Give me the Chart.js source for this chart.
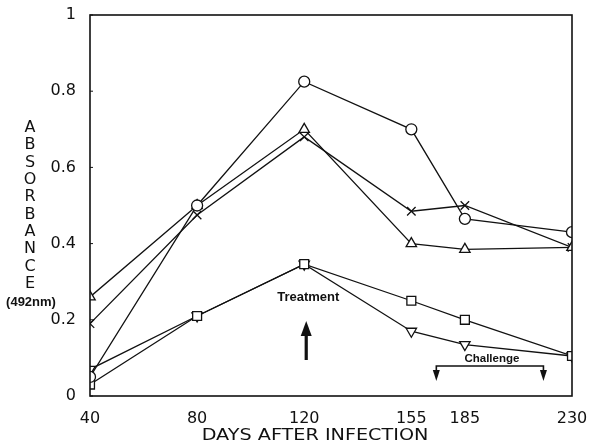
<!DOCTYPE html>
<html>
<head>
<meta charset="utf-8">
<script src="https://cdn.jsdelivr.net/npm/chart.js@4.4.1/dist/chart.umd.min.js"></script>
<style>
  html, body { margin: 0; padding: 0; background: #ffffff; }
  #wrap { width: 589px; height: 445px; position: relative; }
</style>
</head>
<body>
<div id="wrap"><canvas id="c" width="589" height="445"></canvas></div>
<script>
// ---- data ----
const days = [40, 80, 120, 155, 185, 230];
const circleSeries      = [0.05, 0.50, 0.825, 0.70, 0.465, 0.43];
const triangleSeries    = [0.26, 0.50, 0.70, 0.40, 0.385, 0.39];
const crossSeries       = [0.19, 0.475, 0.68, 0.485, 0.50, 0.39];
const squareSeries      = [0.03, 0.21, 0.346, 0.25, 0.20, 0.105];
const invTriangleSeries = [0.07, 0.21, 0.346, 0.17, 0.135, 0.105];
const yTicks = [0, 0.2, 0.4, 0.6, 0.8, 1];
const xTicks = [40, 80, 120, 155, 185, 230];
const treatmentDay = 120;
const challengeDays = [169, 218];
const yTitleLetters = ['A','B','S','O','R','B','A','N','C','E'];
const yTitleUnit = '(492nm)';
const xTitle = 'DAYS AFTER INFECTION';

// ---- a linear scale whose spacing between the original (uneven) day ticks follows the printed axis ----
class WarpScale extends Chart.LinearScale {
  _warp(v) {
    const s = this.options.stops, p = this.options.slots;
    if (v <= s[0]) return p[0] + (v - s[0]) * (p[1] - p[0]) / (s[1] - s[0]);
    for (let i = 1; i < s.length; i++) {
      if (v <= s[i]) return p[i - 1] + (v - s[i - 1]) * (p[i] - p[i - 1]) / (s[i] - s[i - 1]);
    }
    const n = s.length - 1;
    return p[n] + (v - s[n]) * (p[n] - p[n - 1]) / (s[n] - s[n - 1]);
  }
  _unwarp(w) {
    const s = this.options.stops, p = this.options.slots;
    for (let i = 1; i < p.length; i++) {
      if (w <= p[i] || i === p.length - 1) return s[i - 1] + (w - p[i - 1]) * (s[i] - s[i - 1]) / (p[i] - p[i - 1]);
    }
  }
  getPixelForValue(value) {
    if (value === null || value === undefined || isNaN(value)) return NaN;
    const a = this._warp(this.min), b = this._warp(this.max);
    return this.getPixelForDecimal((this._warp(value) - a) / (b - a));
  }
  getValueForPixel(pixel) {
    const a = this._warp(this.min), b = this._warp(this.max);
    return this._unwarp(a + this.getDecimalForPixel(pixel) * (b - a));
  }
}
WarpScale.id = 'warp';
WarpScale.defaults = Chart.LinearScale.defaults;
Chart.register(WarpScale);

const FONT = "'DejaVu Sans', 'Liberation Sans', Arial, sans-serif";
const BOLD = "'Liberation Sans', Arial, sans-serif";

function ds(label, values, style, radius, rotation) {
  return {
    label: label,
    data: days.map((d, i) => ({ x: d, y: values[i] })),
    borderColor: '#111',
    borderWidth: 1.3,
    pointStyle: style,
    pointRadius: radius,
    pointRotation: rotation || 0,
    pointBorderColor: '#111',
    pointBorderWidth: 1.3,
    pointBackgroundColor: 'rgba(255,255,255,1)',
    fill: false,
    tension: 0
  };
}

const annotate = {
  id: 'annotate',
  afterDraw(chart) {
    const ctx = chart.ctx, a = chart.chartArea;
    const xs = chart.scales.x, ys = chart.scales.y;
    ctx.save();
    // frame
    ctx.strokeStyle = '#111';
    ctx.lineWidth = 1.6;
    ctx.strokeRect(a.left, a.top, a.right - a.left, a.bottom - a.top);
    // small tick marks on left axis
    ctx.lineWidth = 1;
    yTicks.forEach(v => {
      const y = ys.getPixelForValue(v);
      ctx.beginPath(); ctx.moveTo(a.left, y); ctx.lineTo(a.left + 3, y); ctx.stroke();
    });
    ctx.fillStyle = '#111';
    ctx.textAlign = 'center';
    ctx.textBaseline = 'middle';
    // x title (printed slightly wide in the original)
    ctx.save();
    ctx.font = '16px ' + FONT;
    ctx.translate((a.left + a.right) / 2 - 16, 436);
    ctx.scale(1.2, 1);
    ctx.fillText(xTitle, 0, 0);
    ctx.restore();
    // y title stacked letters
    ctx.font = '16px ' + FONT;
    yTitleLetters.forEach((ch, i) => ctx.fillText(ch, 30, 128 + i * 17.3));
    ctx.font = 'bold 13px ' + BOLD;
    ctx.fillText(yTitleUnit, 31, 302);
    // treatment
    const tx = xs.getPixelForValue(treatmentDay);
    ctx.font = 'bold 13px ' + BOLD;
    ctx.fillText('Treatment', tx + 4, 297);
    ctx.lineWidth = 3.2;
    ctx.beginPath(); ctx.moveTo(tx + 2, 360); ctx.lineTo(tx + 2, 332); ctx.stroke();
    ctx.beginPath(); ctx.moveTo(tx + 2, 321); ctx.lineTo(tx - 3.5, 336); ctx.lineTo(tx + 7.5, 336); ctx.closePath(); ctx.fill();
    // challenge
    const c1 = xs.getPixelForValue(challengeDays[0]);
    const c2 = xs.getPixelForValue(challengeDays[1]);
    ctx.font = 'bold 11.5px ' + BOLD;
    ctx.fillText('Challenge', (c1 + c2) / 2 + 2, 359);
    ctx.lineWidth = 1.6;
    ctx.beginPath();
    ctx.moveTo(c1, 372); ctx.lineTo(c1, 366); ctx.lineTo(c2, 366); ctx.lineTo(c2, 372);
    ctx.stroke();
    [c1, c2].forEach(cx => {
      ctx.beginPath(); ctx.moveTo(cx - 3.5, 370); ctx.lineTo(cx + 3.5, 370); ctx.lineTo(cx, 381); ctx.closePath(); ctx.fill();
    });
    ctx.restore();
  }
};

new Chart(document.getElementById('c'), {
  type: 'line',
  data: {
    datasets: [
      ds('circle', circleSeries, 'circle', 5.5),
      ds('triangle', triangleSeries, 'triangle', 6),
      ds('cross', crossSeries, 'crossRot', 6),
      ds('square', squareSeries, 'rect', 6.3),
      ds('inverted triangle', invTriangleSeries, 'triangle', 6, 180)
    ]
  },
  options: {
    responsive: false,
    animation: false,
    events: [],
    layout: { padding: { top: 15, right: 17, left: 0, bottom: 0 } },
    plugins: { legend: { display: false }, tooltip: { enabled: false } },
    scales: {
      x: {
        type: 'warp',
        stops: days,
        slots: [0, 1, 2, 3, 3.5, 4.5],
        min: 40,
        max: 230,
        afterBuildTicks: s => { s.ticks = xTicks.map(v => ({ value: v })); },
        afterFit: s => { s.height = 49; s.paddingLeft = 0; s.paddingRight = 0; },
        grid: { display: false },
        border: { display: false },
        ticks: { color: '#111', font: { family: FONT, size: 16 }, padding: 5, maxRotation: 0, autoSkip: false },
        title: { display: false, text: xTitle }
      },
      y: {
        type: 'linear',
        min: 0,
        max: 1,
        afterBuildTicks: s => { s.ticks = yTicks.map(v => ({ value: v })); },
        afterFit: s => { s.width = 90; s.paddingTop = 0; s.paddingBottom = 0; },
        grid: { display: false },
        border: { display: false },
        ticks: { color: '#111', font: { family: FONT, size: 16 }, padding: 6,
                 callback: v => String(v) }
      }
    }
  },
  plugins: [annotate]
});
</script>
</body>
</html>
